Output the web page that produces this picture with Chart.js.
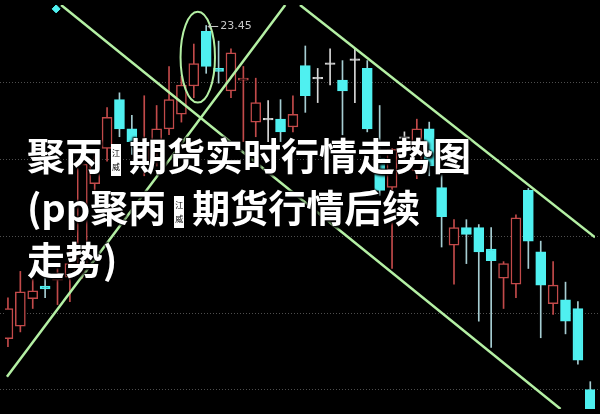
<!DOCTYPE html>
<html lang="zh">
<head>
    <meta charset="UTF-8">
    <title>聚丙烯期货实时行情走势图</title>
    <script src="https://cdn.jsdelivr.net/npm/chart.js@4.4.0/dist/chart.umd.min.js"></script>
    <style>
        body { margin: 0; background: #000; }
        #wrap { position: relative; width: 600px; height: 414px; overflow: hidden; }
        .title {
            position: absolute; left: 27px; top: 128px;
            font-family: "Noto Sans CJK SC", sans-serif; font-weight: 700;
            font-size: 38px; line-height: 52px; color: #fff; white-space: nowrap;
            text-shadow: 0 0 2px #000, 1px 1px 2px #000, -1px -1px 2px #000, 2px 2px 3px #000;
        }
        .ph {
            display: inline-block; width: 10px; height: 32px; margin: 0 8px;
            background: #fff; color: #000; font-size: 8px; line-height: 14px;
            font-weight: 400; text-align: center; vertical-align: middle;
            padding-top: 2px; box-sizing: border-box; text-shadow: none;
        }
    </style>
</head>
<body>
<div id="wrap">
    <canvas id="kChart" width="600" height="414"></canvas>
    <div class="title">
        <div>聚丙<span class="ph">江<br>威</span>期货实时行情走势图</div>
        <div>(pp聚丙<span class="ph">江<br>威</span>期货行情后续</div>
        <div>走势)</div>
    </div>
</div>

<script>
    // daily candles
    var openP  = [20.24, 20.37, 20.65, 20.78, 20.84, 20.87, 20.93, 21.83, 22.19, 22.69, 22.39, 22.06, 22.16, 22.39, 22.54, 22.83,
                  23.39, 23.01, 22.78, 22.89, 22.46, 22.49, 22.49, 22.41, 23.04, 22.91, 23.06, 22.89, 23.10, 23.01, 22.09, 21.79,
                  22.30, 21.96, 22.39, 21.79, 21.20, 21.38, 21.38, 21.16, 20.86, 20.80, 21.76, 21.13, 20.60, 20.64, 20.55, 19.72];
    var highP  = [20.66, 20.93, 20.85, 20.90, 20.99, 21.16, 22.11, 22.18, 22.61, 22.76, 22.53, 22.73, 22.63, 23.03, 22.93, 23.26,
                  23.45, 23.29, 23.21, 23.03, 22.91, 22.68, 22.69, 22.73, 23.24, 23.01, 23.21, 23.09, 23.21, 23.09, 22.63, 22.19,
                  22.36, 22.49, 22.46, 21.93, 21.46, 21.46, 21.41, 21.38, 21.03, 21.51, 21.78, 21.24, 21.03, 20.82, 20.62, 19.80];
    var lowP   = [20.16, 20.31, 20.55, 20.66, 20.59, 20.62, 20.86, 21.71, 22.06, 22.31, 22.13, 21.91, 22.01, 22.33, 22.46, 22.71,
                  22.96, 22.86, 22.71, 22.26, 22.31, 22.26, 22.26, 22.36, 22.56, 22.66, 22.84, 22.33, 22.66, 22.36, 21.71, 20.96,
                  22.06, 21.88, 21.91, 21.18, 20.80, 21.01, 20.42, 20.15, 20.55, 20.66, 20.96, 20.25, 20.49, 20.29, 19.98, 19.40];
    var closeP = [20.55, 20.72, 20.73, 20.75, 20.90, 21.01, 22.03, 22.03, 22.51, 22.39, 22.26, 22.26, 22.39, 22.69, 22.84, 23.06,
                  23.03, 22.98, 23.17, 22.91, 22.66, 22.49, 22.36, 22.54, 22.73, 22.91, 23.06, 22.78, 23.10, 22.39, 21.76, 22.18,
                  22.30, 22.39, 22.01, 21.49, 21.38, 21.31, 21.13, 21.04, 21.01, 21.48, 21.24, 20.79, 20.79, 20.42, 20.02, 19.40];

    var gridLevels = [22.87, 22.08, 21.29, 20.50, 19.72];
    var peakLabel = "23.45";

    // hand drawn trend lines: [x index, price] pairs
    var trendA = [[4.29, 23.66], [44.6, 19.52]];
    var trendB = [[-0.08, 19.85], [22.38, 23.66]];
    var trendC = [[23.57, 23.66], [47.38, 21.28]];
    var circleMark = { x: 15.32, y: 23.125, rx: 1.39, ry: 0.465 };
    var diamondMark = [[3.89, 23.62]];

    var RED = '#c24a4a', CYAN = '#4ff0f0', WHITE = '#d8d8d8', GREEN = '#b4f0a4';

    var bodies = [], wicks = [], bodyFill = [], bodyLine = [], wickColor = [];
    for (var i = 0; i < openP.length; i++) {
        var o = openP[i], c = closeP[i];
        if (o === c) {
            bodies.push({ x: i, y: [c - 0.008, c + 0.008] });
            bodyFill.push(WHITE); bodyLine.push(WHITE); wickColor.push(WHITE);
        } else if (c > o) {
            bodies.push({ x: i, y: [o, c] });
            bodyFill.push('#000'); bodyLine.push(RED); wickColor.push(RED);
        } else {
            bodies.push({ x: i, y: [c, o] });
            bodyFill.push(CYAN); bodyLine.push(CYAN); wickColor.push('#a6cdd2');
        }
        wicks.push({ x: i, y: [lowP[i], highP[i]] });
    }

    function pts(arr) {
        return arr.map(function (p) { return { x: p[0], y: p[1] }; });
    }

    var extras = {
        id: 'extras',
        beforeDatasetsDraw: function (chart) {
            var ctx = chart.ctx, ys = chart.scales.y;
            ctx.save();
            ctx.strokeStyle = '#4e4e4e';
            ctx.lineWidth = 1;
            ctx.setLineDash([1, 2]);
            gridLevels.forEach(function (v) {
                var y = Math.round(ys.getPixelForValue(v)) + 0.5;
                ctx.beginPath();
                ctx.moveTo(0, y);
                ctx.lineTo(chart.width, y);
                ctx.stroke();
            });
            ctx.restore();
        },
        afterDatasetsDraw: function (chart) {
            var ctx = chart.ctx, xs = chart.scales.x, ys = chart.scales.y;
            ctx.save();
            // circle round the top
            var cx = xs.getPixelForValue(circleMark.x), cy = ys.getPixelForValue(circleMark.y);
            var rx = xs.getPixelForValue(circleMark.x + circleMark.rx) - cx;
            var ry = cy - ys.getPixelForValue(circleMark.y + circleMark.ry);
            ctx.strokeStyle = GREEN;
            ctx.lineWidth = 2;
            ctx.beginPath();
            ctx.ellipse(cx, cy, rx, ry, 0, 0, Math.PI * 2);
            ctx.stroke();
            // peak price marker
            var top = highP.indexOf(Math.max.apply(null, highP));
            var px = xs.getPixelForValue(top) + 2, py = ys.getPixelForValue(highP[top]) + 1;
            ctx.strokeStyle = '#c8c8c8';
            ctx.lineWidth = 1;
            ctx.beginPath();
            ctx.moveTo(px + 10, py); ctx.lineTo(px, py);
            ctx.moveTo(px + 3, py - 3); ctx.lineTo(px, py); ctx.lineTo(px + 3, py + 3);
            ctx.stroke();
            ctx.fillStyle = '#c8c8c8';
            ctx.font = '11px "DejaVu Sans", sans-serif';
            ctx.textBaseline = 'middle';
            ctx.fillText(peakLabel, px + 12, py);
            ctx.restore();
        }
    };

    var lineStyle = { type: 'line', borderColor: GREEN, borderWidth: 2.5, pointRadius: 0, order: 0 };

    new Chart(document.getElementById('kChart'), {
        type: 'bar',
        data: {
            datasets: [
                { type: 'bar', data: bodies, backgroundColor: bodyFill, borderColor: bodyLine, borderWidth: 1.5,
                  borderSkipped: false, barThickness: 10, grouped: false, order: 1 },
                { type: 'bar', data: wicks, backgroundColor: wickColor, barThickness: 1, grouped: false, order: 2 },
                Object.assign({ data: pts(trendA) }, lineStyle),
                Object.assign({ data: pts(trendB) }, lineStyle),
                Object.assign({ data: pts(trendC) }, lineStyle),
                { type: 'scatter', data: pts(diamondMark), pointStyle: 'rectRot', pointRadius: 4,
                  backgroundColor: CYAN, borderColor: CYAN, order: 0 }
            ]
        },
        options: {
            responsive: false,
            animation: false,
            layout: { padding: 0 },
            plugins: { legend: { display: false }, tooltip: { enabled: false } },
            scales: {
                x: { type: 'linear', min: -0.238, max: 47.38, offset: false, display: false },
                y: { type: 'linear', min: 19.52, max: 23.66, display: false }
            }
        },
        plugins: [extras]
    });
</script>
</body>
</html>
